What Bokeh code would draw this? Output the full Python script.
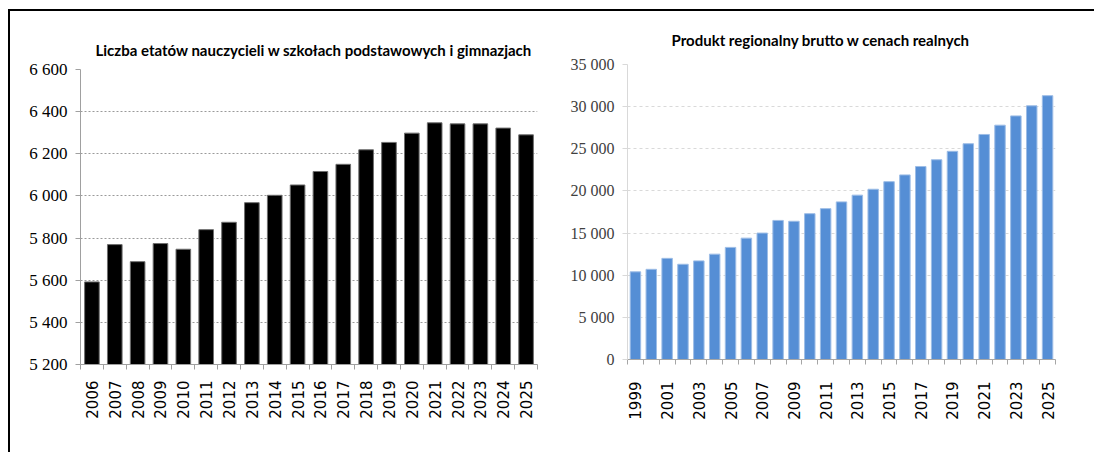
import math
from bokeh.plotting import figure
from bokeh.models import Range1d, FixedTicker, CustomJSTickFormatter, ColumnDataSource, Spacer
from bokeh.layouts import row
from bokeh.embed import file_html
from bokeh.resources import INLINE

# ---------------- data ----------------
teach_years = list(range(2006, 2026))
teach_fte = [5592, 5769, 5688, 5774, 5747, 5840, 5875, 5968, 6003, 6052,
             6116, 6150, 6219, 6254, 6298, 6347, 6342, 6342, 6322, 6290]
gdp_years = list(range(1999, 2026))
gdp_values = [10400, 10700, 12000, 11300, 11700, 12500, 13300, 14400, 15000,
              16500, 16400, 17300, 17900, 18700, 19500, 20200, 21100, 21900,
              22900, 23700, 24700, 25600, 26700, 27800, 28900, 30100, 31300]
left_title = "Liczba etatów nauczycieli w szkołach podstawowych i gimnazjach"
right_title = "Produkt regionalny brutto w cenach realnych"
left_yticks = list(range(5200, 6601, 200))
right_yticks = list(range(0, 35001, 5000))

YFMT = """
const s = Math.round(tick).toString();
return s.replace(/\\B(?=(\\d{3})+(?!\\d))/g, " ");
"""
XFMT = "return String(years[Math.floor(tick)]);"

NARROW = "Liberation Sans Narrow"
TITLE_FONT = "Lato"


def make_chart(years, values, title, yticks, label_step, width, height,
               borders, bar_fill, bar_line, bar_width, grid_color, grid_dash,
               yaxis_color, xaxis_color, ylabel_color, ylabel_size,
               title_offset, title_standoff, xlabel_standoff, styles=None):
    n = len(years)
    src = ColumnDataSource(dict(x=[i + 0.5 for i in range(n)], top=values))
    p = figure(width=width, height=height, output_backend="svg",
               toolbar_location=None, x_range=Range1d(0, n),
               y_range=Range1d(yticks[0], yticks[-1]))
    if styles:
        p.styles = styles
    p.min_border_left, p.min_border_right, p.min_border_top, p.min_border_bottom = borders
    p.outline_line_color = None
    p.background_fill_color = "white"
    p.border_fill_color = "white"
    p.border_fill_alpha = 0.0

    p.vbar(x="x", top="top", bottom=yticks[0], width=bar_width, source=src,
           fill_color=bar_fill, line_color=bar_line, line_width=1)

    # title
    p.title.text = title
    p.title.text_font = TITLE_FONT
    p.title.text_font_style = "bold"
    p.title.text_font_size = "15px"
    p.title.text_color = "black"
    p.title.align = "left"
    p.title.offset = title_offset
    p.title.standoff = title_standoff

    # x axis: labels at bar centres, tick marks at category boundaries
    xa = p.xaxis[0]
    xa.ticker = FixedTicker(ticks=[i + 0.5 for i in range(0, n, label_step)],
                            minor_ticks=list(range(0, n + 1)))
    xa.formatter = CustomJSTickFormatter(args=dict(years=years), code=XFMT)
    xa.major_label_orientation = math.pi / 2
    xa.major_label_text_font = "DejaVu Sans"
    xa.major_label_text_font_size = "15px"
    xa.major_label_text_color = "black"
    xa.major_label_standoff = xlabel_standoff
    xa.major_tick_out = 0
    xa.major_tick_in = 0
    xa.minor_tick_out = 5
    xa.minor_tick_in = 0
    xa.minor_tick_line_color = xaxis_color
    xa.axis_line_color = xaxis_color

    ya = p.yaxis[0]
    ya.ticker = FixedTicker(ticks=yticks)
    ya.formatter = CustomJSTickFormatter(code=YFMT)
    ya.major_label_text_font = NARROW
    ya.major_label_text_font_size = ylabel_size
    ya.major_label_text_color = ylabel_color
    ya.major_label_standoff = 8
    ya.major_tick_out = 5
    ya.major_tick_in = 0
    ya.major_tick_line_color = yaxis_color
    ya.minor_tick_line_color = None
    ya.axis_line_color = yaxis_color

    p.xgrid.grid_line_color = None
    p.ygrid.ticker = FixedTicker(ticks=yticks)
    p.ygrid.grid_line_color = grid_color
    p.ygrid.grid_line_dash = grid_dash
    return p


p1 = make_chart(teach_years, teach_fte, left_title, left_yticks, 1,
                540, 434, (70, 13, 58, 81), "black", "#6f6f6f", 0.64,
                "#9a9a9a", "2 2", "#a0a0a0", "#a0a0a0", "black", "17px",
                15, 22, 11)
p2 = make_chart(gdp_years, gdp_values, right_title, right_yticks, 2,
                544, 434, (77, 39, 58, 81), "#558ED5", "#9dbde6", 0.66,
                "#d9d9d9", "3 3", "#d9d9d9", "#a6a6a6", "#404040", "16px",
                44, 32, 17,
                styles={"position": "relative", "top": "-5px"})

# left frame line of the panel (extends to the bottom of the window)
edge = Spacer(width=2, height=434,
              styles={"background-color": "#000",
                      "box-shadow": "0 8px 0 0 #000"})

layout = row(edge, p1, p2, styles={"margin-top": "11px", "margin-left": "8px",
                                   "box-shadow": "0 -2px 0 0 #000"})

open("out.html", "w").write(file_html(layout, INLINE))
